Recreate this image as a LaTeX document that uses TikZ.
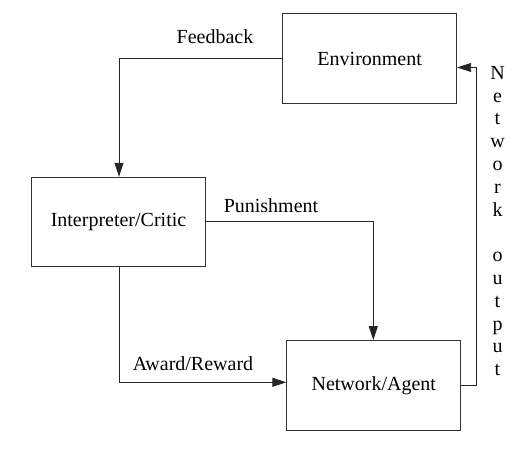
\documentclass[tikz,border=0pt]{standalone}
\usepackage{fontspec}
\setmainfont{Liberation Serif}
\usetikzlibrary{arrows.meta}
\begin{document}
\begin{tikzpicture}[x=1pt,y=-1pt,
  every node/.style={font=\fontsize{20}{22}\selectfont},
  blockbox/.style={draw=black!80,line width=0.9pt,minimum width=174pt,minimum height=89.5pt,inner sep=0pt},
  conn/.style={draw=black!85,line width=0.9pt},
  arr/.style={conn,-{Triangle[length=14pt,width=9pt]}},
  lbl/.style={anchor=base,inner sep=0pt}]
\useasboundingbox (0,0) rectangle (527,454);
\node[blockbox] (env) at (369.7,58.7) {Environment};
\node[blockbox] (int) at (118.5,222) {Interpreter/Critic};
\node[blockbox] (agt) at (373.8,385.3) {Network/Agent};
\coordinate (fb) at (119,58.3);
\coordinate (pn) at (373.3,221.7);
\coordinate (aw) at (119,382.3);
\coordinate (o1) at (476.7,385);
\coordinate (o2) at (476.7,67.5);
\draw[arr] (env.west |- fb) -- (fb) -- (fb |- int.north);
\draw[arr] (int.east |- pn) -- (pn) -- (pn |- agt.north);
\draw[arr] (int.south -| aw) -- (aw) -- (aw -| agt.west);
\draw[arr] (agt.east |- o1) -- (o1) -- (o2) -- (o2 -| env.east);
\node[lbl] (lfb) at (215,44) {Feedback};
\node[lbl] (lpn) at (271,213) {Punishment};
\node[lbl] (law) at (193,370.7) {Award/Reward};
\node[anchor=north,inner sep=0pt,align=center,font=\fontsize{20}{22.8}\selectfont] (lout) at (497.5,66) {N\\e\\t\\w\\o\\r\\k\\[22.8pt]o\\u\\t\\p\\u\\t};
\end{tikzpicture}
\end{document}
